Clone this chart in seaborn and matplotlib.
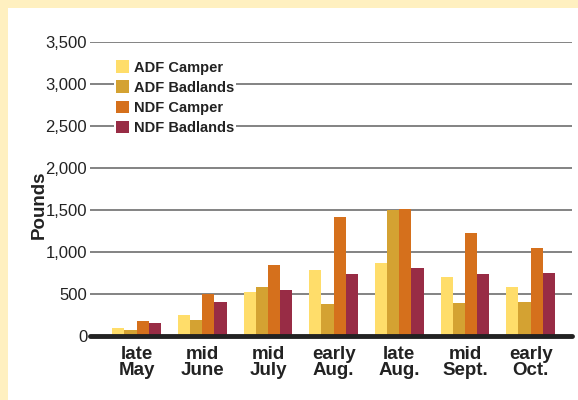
import pandas as pd
import matplotlib
matplotlib.use("Agg")
import matplotlib.pyplot as plt
import seaborn as sns
from matplotlib.patches import Rectangle

# data
periods = ["late\nMay", "mid\nJune", "mid\nJuly", "early\nAug.", "late\nAug.", "mid\nSept.", "early\nOct."]
adf_camper = [95, 250, 525, 785, 870, 700, 585]
adf_badlands = [70, 190, 580, 380, 1500, 390, 405]
ndf_camper = [180, 505, 850, 1415, 1510, 1225, 1045]
ndf_badlands = [155, 410, 545, 735, 810, 735, 750]
series = ["ADF Camper", "ADF Badlands", "NDF Camper", "NDF Badlands"]
colors = ["#FFDD6A", "#D4A232", "#D5701C", "#982C45"]

df = pd.DataFrame({"Period": periods * 4,
                   "Series": sum([[s] * len(periods) for s in series], []),
                   "Pounds": adf_camper + adf_badlands + ndf_camper + ndf_badlands})

sns.set_style("white")
plt.rcParams["font.family"] = ["Liberation Sans", "DejaVu Sans"]

fig = plt.figure(figsize=(5.78, 4.0), dpi=100)
fig.patch.set_facecolor("#FFF0C0")
fig.patches.append(Rectangle((8 / 578, 0), 1, 1 - 8 / 400, transform=fig.transFigure,
                             facecolor="white", edgecolor="none", zorder=-10))
ax = fig.add_axes([90 / 578, 0.16, (572 - 90) / 578, 0.895 - 0.16])
ax.set_facecolor("none")

sns.barplot(data=df, x="Period", y="Pounds", hue="Series", palette=colors,
            saturation=1, width=0.74, gap=0, linewidth=0, ax=ax, zorder=3)

ax.set_ylim(0, 3500)
ax.set_xlim(-0.71, 6.63)
ax.set_yticks(range(0, 3501, 500))
ax.set_yticklabels([f"{v:,}" for v in range(0, 3501, 500)], fontsize=12, color="#222")
for v in range(500, 3501, 500):
    ax.axhline(v, color="#6e6e6e", lw=1.2, zorder=1)
ax.axhline(0, color="#222", lw=3.5, zorder=4, clip_on=False)
ax.tick_params(axis="y", length=0, pad=2)
ax.tick_params(axis="x", length=0, pad=7)
for lbl in ax.get_xticklabels():
    lbl.set_fontsize(13.5)
    lbl.set_fontweight("bold")
    lbl.set_color("#222")
    lbl.set_linespacing(0.95)
for s in ax.spines.values():
    s.set_visible(False)
ax.set_xlabel("")
ax.set_ylabel("Pounds", fontsize=13.5, fontweight="bold", color="#222")
ax.yaxis.set_label_coords(-0.088, 0.445)

leg = ax.legend(loc="upper left", bbox_to_anchor=(0.05, 0.945), frameon=True,
                prop={"weight": "bold", "size": 10.5}, handlelength=0.85,
                handleheight=0.95, handletextpad=0.35, labelspacing=0.4,
                borderpad=0.15, borderaxespad=0)
leg.get_frame().set_facecolor("white")
leg.get_frame().set_edgecolor("none")
leg.get_frame().set_alpha(1)
leg.set_zorder(5)
for t in leg.get_texts():
    t.set_color("#222")

fig.savefig("out.png", dpi=100, facecolor=fig.get_facecolor())
